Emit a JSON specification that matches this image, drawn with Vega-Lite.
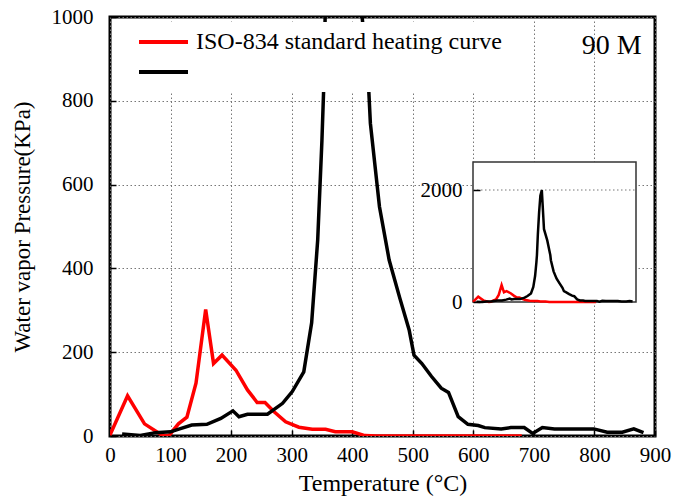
{
  "$schema": "https://vega.github.io/schema/vega-lite/v6.json",
  "width": 545,
  "height": 419,
  "autosize": {"type": "none"},
  "padding": {"left": 110, "top": 17, "right": 38, "bottom": 61},
  "background": "white",
  "config": {
    "font": "Liberation Serif",
    "view": {"stroke": "black", "strokeWidth": 3},
    "axis": {
      "labelFont": "Liberation Serif",
      "titleFont": "Liberation Serif",
      "labelColor": "black",
      "titleColor": "black",
      "titleFontWeight": "normal",
      "domain": false,
      "tickColor": "black",
      "tickWidth": 1.5,
      "gridColor": "#777777",
      "gridDash": [1.5, 2.5],
      "gridWidth": 1,
      "labelFontSize": 21,
      "titleFontSize": 24,
      "labelFlush": false,
      "labelOverlap": false,
      "format": "d"
    }
  },
  "datasets": {
    "curves": [
      {"series": "ISO-834 standard heating curve", "temperature": 0, "pressure": 2},
      {"series": "ISO-834 standard heating curve", "temperature": 29, "pressure": 96},
      {"series": "ISO-834 standard heating curve", "temperature": 57, "pressure": 29},
      {"series": "ISO-834 standard heating curve", "temperature": 88, "pressure": 0},
      {"series": "ISO-834 standard heating curve", "temperature": 98, "pressure": 2},
      {"series": "ISO-834 standard heating curve", "temperature": 113, "pressure": 29},
      {"series": "ISO-834 standard heating curve", "temperature": 127, "pressure": 45},
      {"series": "ISO-834 standard heating curve", "temperature": 142, "pressure": 126},
      {"series": "ISO-834 standard heating curve", "temperature": 158, "pressure": 302},
      {"series": "ISO-834 standard heating curve", "temperature": 171, "pressure": 173},
      {"series": "ISO-834 standard heating curve", "temperature": 185, "pressure": 193},
      {"series": "ISO-834 standard heating curve", "temperature": 208, "pressure": 157},
      {"series": "ISO-834 standard heating curve", "temperature": 227, "pressure": 110},
      {"series": "ISO-834 standard heating curve", "temperature": 243, "pressure": 80},
      {"series": "ISO-834 standard heating curve", "temperature": 256, "pressure": 80},
      {"series": "ISO-834 standard heating curve", "temperature": 271, "pressure": 58},
      {"series": "ISO-834 standard heating curve", "temperature": 290, "pressure": 34},
      {"series": "ISO-834 standard heating curve", "temperature": 312, "pressure": 21},
      {"series": "ISO-834 standard heating curve", "temperature": 334, "pressure": 16},
      {"series": "ISO-834 standard heating curve", "temperature": 356, "pressure": 16},
      {"series": "ISO-834 standard heating curve", "temperature": 372, "pressure": 10},
      {"series": "ISO-834 standard heating curve", "temperature": 400, "pressure": 10},
      {"series": "ISO-834 standard heating curve", "temperature": 421, "pressure": 1},
      {"series": "ISO-834 standard heating curve", "temperature": 440, "pressure": 0},
      {"series": "ISO-834 standard heating curve", "temperature": 680, "pressure": 0},
      {"series": "90 M", "temperature": 20, "pressure": 5},
      {"series": "90 M", "temperature": 50, "pressure": 1},
      {"series": "90 M", "temperature": 75, "pressure": 8},
      {"series": "90 M", "temperature": 100, "pressure": 10},
      {"series": "90 M", "temperature": 115, "pressure": 17},
      {"series": "90 M", "temperature": 135, "pressure": 26},
      {"series": "90 M", "temperature": 160, "pressure": 28},
      {"series": "90 M", "temperature": 183, "pressure": 42},
      {"series": "90 M", "temperature": 203, "pressure": 60},
      {"series": "90 M", "temperature": 213, "pressure": 46},
      {"series": "90 M", "temperature": 227, "pressure": 52},
      {"series": "90 M", "temperature": 260, "pressure": 52},
      {"series": "90 M", "temperature": 285, "pressure": 78},
      {"series": "90 M", "temperature": 301, "pressure": 106},
      {"series": "90 M", "temperature": 320, "pressure": 153},
      {"series": "90 M", "temperature": 333, "pressure": 270},
      {"series": "90 M", "temperature": 343, "pressure": 468},
      {"series": "90 M", "temperature": 350, "pressure": 706},
      {"series": "90 M", "temperature": 353, "pressure": 834},
      {"series": "90 M", "temperature": 358, "pressure": 1200},
      {"series": "90 M", "temperature": 365, "pressure": 1600},
      {"series": "90 M", "temperature": 372, "pressure": 1900},
      {"series": "90 M", "temperature": 380, "pressure": 2000},
      {"series": "90 M", "temperature": 392, "pressure": 1300},
      {"series": "90 M", "temperature": 410, "pressure": 1100},
      {"series": "90 M", "temperature": 427, "pressure": 834},
      {"series": "90 M", "temperature": 430, "pressure": 746},
      {"series": "90 M", "temperature": 445, "pressure": 547},
      {"series": "90 M", "temperature": 461, "pressure": 420},
      {"series": "90 M", "temperature": 478, "pressure": 332},
      {"series": "90 M", "temperature": 494, "pressure": 253},
      {"series": "90 M", "temperature": 502, "pressure": 193},
      {"series": "90 M", "temperature": 515, "pressure": 173},
      {"series": "90 M", "temperature": 531, "pressure": 142},
      {"series": "90 M", "temperature": 547, "pressure": 114},
      {"series": "90 M", "temperature": 559, "pressure": 104},
      {"series": "90 M", "temperature": 575, "pressure": 46},
      {"series": "90 M", "temperature": 591, "pressure": 28},
      {"series": "90 M", "temperature": 608, "pressure": 25},
      {"series": "90 M", "temperature": 619, "pressure": 20},
      {"series": "90 M", "temperature": 646, "pressure": 17},
      {"series": "90 M", "temperature": 662, "pressure": 20},
      {"series": "90 M", "temperature": 684, "pressure": 20},
      {"series": "90 M", "temperature": 698, "pressure": 6},
      {"series": "90 M", "temperature": 714, "pressure": 20},
      {"series": "90 M", "temperature": 734, "pressure": 17},
      {"series": "90 M", "temperature": 772, "pressure": 17},
      {"series": "90 M", "temperature": 799, "pressure": 17},
      {"series": "90 M", "temperature": 821, "pressure": 9},
      {"series": "90 M", "temperature": 846, "pressure": 9},
      {"series": "90 M", "temperature": 865, "pressure": 17},
      {"series": "90 M", "temperature": 881, "pressure": 8}
    ]
  },
  "layer": [
    {
      "layer": [
        {
          "data": {"name": "curves"},
          "mark": {"type": "line", "strokeWidth": 3.5, "clip": true},
          "encoding": {
            "x": {
              "field": "temperature", "type": "quantitative",
              "scale": {"domain": [0, 900], "nice": false},
              "axis": {"values": [0, 100, 200, 300, 400, 500, 600, 700, 800, 900], "tickSize": -6, "labelPadding": 14, "title": "Temperature (°C)", "titlePadding": 6}
            },
            "y": {
              "field": "pressure", "type": "quantitative",
              "scale": {"domain": [0, 1000], "nice": false},
              "axis": {"values": [0, 200, 400, 600, 800, 1000], "tickSize": -6, "labelPadding": 23, "title": "Water vapor Pressure(KPa)", "titleFontSize": 23, "titlePadding": 17}
            },
            "color": {
              "field": "series", "type": "nominal",
              "scale": {"domain": ["ISO-834 standard heating curve", "90 M"], "range": ["#ff0000", "#000000"]},
              "legend": {
                "orient": "none", "legendX": 22, "legendY": 5, "title": null,
                "symbolType": "stroke", "symbolSize": 2401, "symbolStrokeWidth": 4,
                "labelFont": "Liberation Serif", "labelFontSize": 24, "labelColor": "black", "labelLimit": 0, "labelOffset": 6,
                "labelExpr": "datum.label == '90 M' ? '' : datum.label",
                "fillColor": "white", "padding": 5, "clipHeight": 30, "rowPadding": 0
              }
            }
          }
        },
        {
          "data": {"values": [{"label": "90 M"}]},
          "mark": {"type": "text", "font": "Liberation Serif", "fontSize": 28, "align": "right", "baseline": "alphabetic", "color": "black"},
          "encoding": {
            "x": {"datum": 878, "type": "quantitative"},
            "y": {"datum": 912, "type": "quantitative"},
            "text": {"field": "label", "type": "nominal"}
          }
        }
      ]
    },
    {
      "layer": [
        {
          "data": {"values": [{"frame": "inset"}]},
          "mark": {"type": "rect", "fill": "white", "stroke": "#333333", "strokeWidth": 1.5},
          "encoding": {
            "x": {"datum": 0, "type": "quantitative", "scale": {"domain": [0, 900], "nice": false, "range": [363, 526]}, "axis": null},
            "x2": {"datum": 900},
            "y": {"datum": 0, "type": "quantitative", "scale": {"domain": [0, 2500], "nice": false, "range": [285, 145]},
                  "axis": {"orient": "left", "offset": -363, "values": [0, 2000], "grid": false, "tickSize": -7, "labelPadding": 18, "title": null, "zindex": 1}},
            "y2": {"datum": 2500}
          }
        },
        {
          "data": {"values": [{"frame": "inset"}]},
          "mark": {"type": "rule", "color": "#777777", "strokeDash": [1.5, 2.5], "strokeWidth": 1},
          "encoding": {
            "x": {"datum": 0, "type": "quantitative"},
            "x2": {"datum": 900},
            "y": {"datum": 2000, "type": "quantitative"}
          }
        },
        {
          "data": {"name": "curves"},
          "mark": {"type": "line", "strokeWidth": 2.5},
          "encoding": {
            "x": {"field": "temperature", "type": "quantitative"},
            "y": {"field": "pressure", "type": "quantitative"},
            "color": {"field": "series", "type": "nominal"}
          }
        }
      ]
    }
  ],
  "resolve": {"scale": {"x": "independent", "y": "independent"}}
}
